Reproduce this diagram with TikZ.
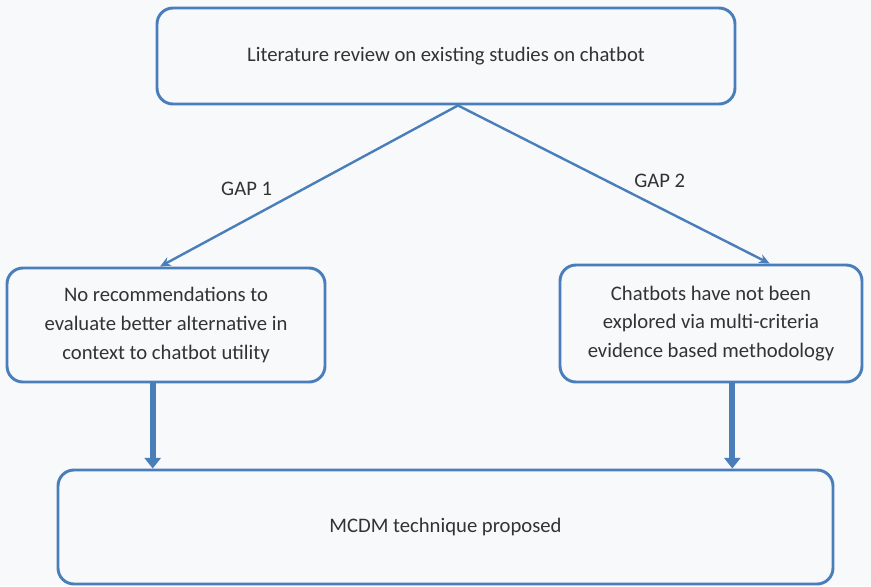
\documentclass[tikz,border=0pt]{standalone}
\usepackage{fontspec}
\setmainfont{Carlito}
\usepackage{tikz}
\usetikzlibrary{arrows.meta,positioning}
\definecolor{boxblue}{HTML}{4A7EBB}
\definecolor{paper}{HTML}{F8F9FB}

\begin{document}
\begin{tikzpicture}[
    x=0.75pt, y=-0.75pt,
    every node/.style={font=\fontsize{15.5}{21.4}\selectfont, text=black!80},
    box/.style={rectangle, rounded corners=12pt, draw=boxblue, line width=2.2pt, fill=paper, align=center},
    arrow/.style={-{Stealth[length=8pt,width=7pt]}, draw=boxblue, line width=1.8pt},
    fatarrow/.style={-{Triangle[length=8pt,width=12pt]}, draw=boxblue, line width=4.5pt}
]
    \fill[paper] (0,0) rectangle (871,586);
    \node[box, minimum width=578*0.75pt, minimum height=96*0.75pt] (lit) at (446,56)
        {Literature review on existing studies on chatbot};
    \node[box, minimum width=318*0.75pt, minimum height=114*0.75pt] (gapone) at (166,325)
        {No recommendations to\\evaluate better alternative in\\context to chatbot utility};
    \node[box, minimum width=302*0.75pt, minimum height=117*0.75pt] (gaptwo) at (711,323.5)
        {Chatbots have not been\\explored via multi-criteria\\evidence based methodology};
    \node[box, minimum width=775*0.75pt, minimum height=114*0.75pt] (mcdm) at (445.5,527)
        {MCDM technique proposed};

    \draw[arrow] ([xshift=9pt]lit.south) -- node[pos=0.52, left=19pt] {GAP 1} ([xshift=-4.5pt]gapone.north);
    \draw[arrow] ([xshift=9pt]lit.south) -- node[pos=0.6, above=5pt, xshift=11pt] {GAP 2} ([xshift=44pt]gaptwo.north);

    \draw[fatarrow] ([xshift=-10pt]gapone.south) -- ([xshift=-10pt]gapone.south |- mcdm.north);
    \draw[fatarrow] ([xshift=16pt]gaptwo.south) -- ([xshift=16pt]gaptwo.south |- mcdm.north);
\end{tikzpicture}
\end{document}
